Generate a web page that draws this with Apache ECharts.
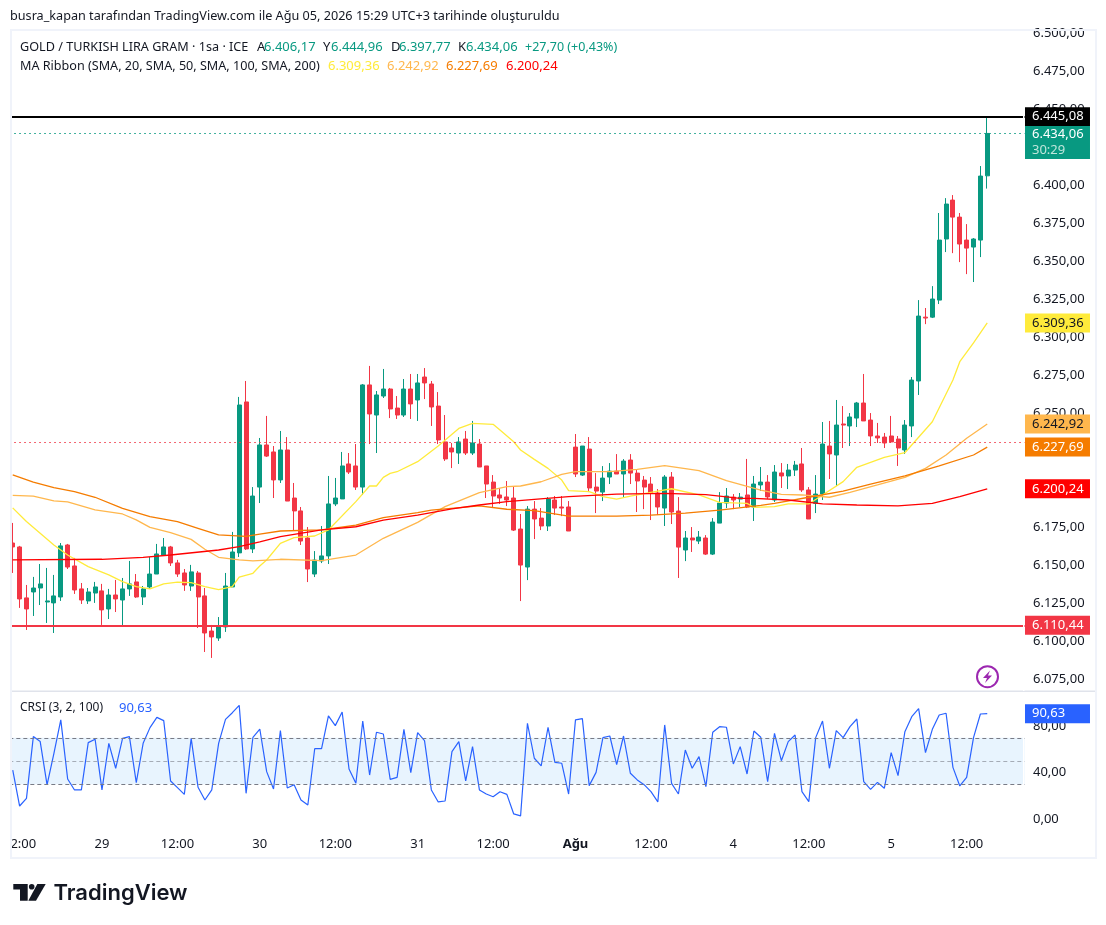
<!DOCTYPE html>
<html><head><meta charset="utf-8">
<style>html,body{margin:0;padding:0;background:#fff}#c{width:1106px;height:925px}</style>
<script src="https://cdn.jsdelivr.net/npm/echarts@6/dist/echarts.min.js"></script>
</head><body><div id="c"></div>
<script>
const opens=[6164.6,6162.0,6128.5,6132.4,6135.0,6125.8,6125.2,6129.1,6163.3,6149.5,6134.4,6126.5,6131.7,6133.1,6121.2,6130.4,6127.1,6134.4,6139.0,6129.1,6135.7,6144.2,6156.7,6162.0,6151.5,6144.9,6136.3,6144.9,6129.8,6106.7,6102.1,6109.4,6135.7,6158.1,6257.4,6160.7,6201.4,6229.1,6224.5,6206.1,6225.8,6194.2,6185.7,6167.9,6144.2,6152.8,6156.1,6190.3,6193.6,6216.6,6215.3,6201.4,6268.6,6248.8,6261.3,6265.9,6253.4,6248.8,6265.9,6258.7,6273.8,6269.2,6254.7,6231.1,6227.1,6223.8,6233.0,6223.8,6229.7,6215.3,6204.7,6196.2,6194.9,6194.2,6173.8,6148.8,6186.9,6181.0,6175.8,6192.9,6188.3,6188.3,6227.7,6209.3,6226.4,6201.4,6198.1,6208.0,6211.9,6210.0,6219.2,6210.6,6206.0,6203.4,6197.5,6187.6,6208.0,6185.6,6160.0,6167.9,6165.9,6167.9,6157.3,6177.7,6190.9,6194.8,6193.5,6196.2,6188.3,6202.8,6204.7,6192.9,6210.7,6208.7,6212.6,6216.6,6199.5,6190.7,6196.8,6228.4,6222.5,6242.9,6241.6,6246.8,6256.7,6245.5,6235.0,6234.3,6235.0,6233.0,6225.8,6241.6,6271.2,6313.2,6313.2,6324.4,6364.6,6390.2,6379.0,6363.9,6359.3,6363.9,6406.17];
const closes=[6162.0,6127.8,6121.2,6135.0,6137.7,6126.5,6129.8,6162.7,6148.8,6133.7,6127.1,6132.4,6135.7,6120.6,6130.4,6127.8,6134.4,6137.7,6129.1,6134.4,6144.2,6157.4,6162.0,6151.5,6144.2,6137.0,6145.6,6129.1,6105.4,6102.8,6110.0,6136.3,6158.7,6255.4,6160.7,6195.5,6229.1,6221.8,6206.1,6225.8,6192.2,6185.7,6165.9,6147.5,6153.4,6156.1,6190.3,6194.2,6215.3,6211.3,6201.4,6268.6,6249.5,6262.0,6265.9,6252.8,6248.8,6265.9,6256.1,6269.9,6269.9,6254.1,6232.4,6219.9,6224.5,6231.1,6223.8,6230.4,6214.6,6203.4,6195.5,6194.2,6192.9,6173.1,6150.1,6186.9,6180.4,6175.8,6193.5,6187.6,6187.6,6172.5,6210.0,6228.4,6200.8,6198.8,6207.3,6211.9,6210.0,6218.5,6210.6,6205.4,6201.4,6197.5,6188.3,6208.0,6185.0,6161.9,6167.9,6166.6,6168.5,6157.3,6178.4,6190.9,6195.5,6192.9,6194.8,6188.3,6203.4,6204.7,6194.9,6211.3,6208.7,6212.6,6215.9,6199.5,6180.4,6196.8,6229.7,6223.2,6242.2,6242.2,6247.5,6256.7,6244.9,6235.0,6233.7,6230.4,6231.1,6227.1,6242.2,6271.8,6313.9,6312.6,6325.1,6363.9,6387.6,6379.0,6361.3,6358.6,6364.6,6406.0,6434.06];
const lows=[6144.9,6121.9,6107.4,6116.6,6123.8,6112.0,6105.4,6126.5,6147.5,6131.1,6124.5,6124.5,6125.2,6110.7,6114.6,6119.2,6109.4,6129.8,6128.5,6123.8,6134.4,6144.2,6156.7,6149.5,6142.3,6133.1,6133.1,6108.7,6092.9,6089.0,6100.2,6106.1,6135.7,6155.4,6160.0,6158.0,6190.9,6221.2,6194.2,6204.1,6192.2,6172.5,6163.3,6138.9,6142.2,6151.4,6150.8,6188.9,6193.6,6210.0,6199.5,6196.2,6229.7,6223.8,6260.0,6246.8,6246.2,6247.5,6246.2,6244.9,6259.3,6241.6,6229.7,6218.6,6213.9,6216.6,6222.5,6222.5,6214.6,6194.2,6188.3,6190.3,6188.9,6172.5,6126.4,6140.2,6167.2,6173.1,6172.5,6183.0,6182.3,6172.5,6208.0,6208.7,6198.1,6184.3,6192.2,6203.4,6210.0,6194.2,6203.4,6185.0,6186.9,6179.7,6183.0,6175.8,6177.1,6141.6,6152.7,6158.7,6163.9,6156.7,6156.7,6177.7,6187.6,6186.9,6188.3,6187.6,6179.1,6198.8,6193.6,6191.6,6200.8,6200.1,6208.7,6198.2,6180.4,6184.3,6192.9,6206.7,6202.1,6227.1,6228.4,6240.9,6244.9,6228.4,6230.4,6227.1,6230.4,6215.3,6223.2,6234.3,6262.0,6308.6,6312.6,6321.8,6356.0,6355.3,6349.4,6341.5,6336.3,6352.7,6397.77];
const highs=[6177.8,6162.7,6137.0,6142.3,6150.8,6148.2,6143.6,6164.6,6164.0,6154.8,6138.3,6135.0,6139.0,6137.7,6134.4,6140.3,6141.6,6152.8,6144.2,6136.3,6155.4,6164.0,6167.9,6162.7,6153.5,6147.5,6150.2,6146.2,6135.0,6110.7,6115.9,6144.9,6171.9,6260.7,6271.2,6201.4,6233.7,6248.2,6228.4,6238.3,6234.3,6204.1,6188.3,6175.1,6159.3,6175.8,6208.7,6207.4,6224.5,6223.8,6229.7,6269.2,6281.1,6264.6,6279.1,6266.6,6261.3,6272.5,6275.8,6275.8,6279.7,6271.2,6263.9,6248.8,6230.4,6234.3,6238.3,6244.9,6233.0,6215.3,6209.3,6200.8,6205.4,6202.1,6183.7,6188.9,6192.2,6187.6,6194.8,6195.5,6195.5,6192.2,6236.3,6228.4,6234.3,6210.6,6215.2,6217.2,6223.1,6219.8,6223.1,6212.6,6208.7,6208.0,6200.1,6209.3,6211.3,6194.8,6172.5,6175.1,6172.5,6169.8,6181.0,6198.1,6200.8,6196.8,6197.5,6219.9,6208.7,6214.6,6209.3,6215.9,6217.2,6216.6,6218.6,6227.1,6201.4,6209.3,6244.2,6244.9,6258.7,6254.7,6250.1,6257.4,6275.8,6250.1,6243.6,6237.0,6248.2,6235.0,6245.5,6273.8,6324.4,6319.2,6333.6,6381.7,6391.5,6393.5,6381.7,6374.4,6365.2,6412.6,6444.96];
const ma20=[[0,6187.7],[2,6178.7],[4,6171.0],[6,6163.3],[8,6156.7],[11,6149.1],[14,6143.6],[16,6139.2],[18,6135.9],[20,6134.4],[22,6137.7],[24,6138.8],[26,6138.5],[28,6135.9],[30,6133.9],[32,6135.9],[33,6142.1],[35,6144.7],[36,6149.5],[37,6153.4],[39,6164.4],[41,6168.1],[44,6169.2],[46,6173.2],[50,6191.8],[52,6202.1],[53,6202.1],[54,6207.8],[55,6210.4],[56,6211.5],[59,6218.1],[62,6228.4],[65,6240.0],[67,6243.3],[70,6242.7],[71,6238.9],[73,6231.2],[74,6225.8],[76,6219.6],[78,6213.7],[80,6206.0],[81,6199.0],[84,6198.4],[86,6195.1],[88,6193.5],[90,6195.5],[94,6198.8],[96,6200.3],[100,6196.2],[103,6191.3],[107,6190.7],[108,6188.1],[111,6188.5],[113,6190.3],[116,6190.3],[118,6196.2],[121,6205.0],[123,6214.4],[127,6221.0],[130,6224.0],[131,6229.1],[134,6244.4],[137,6271.8],[138,6283.9],[140,6296.2],[142,6309.36]];
const ma50=[[0,6196.0],[3,6195.4],[6,6192.3],[8,6191.6],[12,6186.4],[16,6183.7],[18,6179.8],[20,6174.9],[23,6171.4],[26,6167.0],[28,6160.5],[30,6155.2],[33,6153.5],[35,6152.8],[39,6153.9],[45,6153.0],[50,6156.7],[54,6167.7],[59,6178.2],[63,6188.5],[68,6197.7],[72,6201.7],[74,6202.1],[77,6204.9],[80,6209.8],[82,6211.5],[87,6211.5],[91,6213.0],[95,6215.5],[100,6212.2],[104,6205.6],[109,6199.4],[112,6196.6],[115,6196.2],[119,6194.7],[122,6197.9],[126,6202.8],[130,6207.8],[133,6213.7],[136,6222.5],[139,6233.5],[142,6242.92]];
const ma100=[[0,6209.4],[3,6204.6],[6,6201.0],[9,6198.4],[12,6194.7],[16,6187.4],[20,6182.0],[24,6178.7],[27,6174.3],[30,6169.9],[34,6169.0],[36,6170.4],[39,6172.5],[45,6173.2],[50,6176.4],[54,6181.3],[59,6184.6],[61,6186.3],[68,6189.0],[72,6186.8],[76,6185.9],[81,6182.3],[88,6182.3],[93,6183.0],[98,6184.3],[103,6186.3],[109,6189.4],[111,6190.7],[116,6194.7],[121,6198.8],[125,6203.4],[130,6208.7],[135,6215.3],[140,6222.5],[142,6227.69]];
const ma200=[[0,6153.5],[13,6153.9],[19,6155.2],[23,6156.7],[30,6160.0],[33,6162.2],[36,6165.3],[39,6168.8],[45,6173.2],[50,6175.3],[54,6179.7],[59,6183.0],[64,6187.0],[68,6189.6],[72,6191.8],[76,6193.3],[81,6195.1],[88,6196.8],[95,6197.3],[101,6196.4],[106,6194.0],[108,6194.0],[113,6192.9],[118,6190.3],[123,6189.6],[129,6189.0],[134,6190.7],[138,6195.1],[142,6200.24]];
const crsi=[42.3,11.4,18.0,71.0,66.7,29.5,56.6,85.3,34.6,25.2,25.2,65.8,68.7,25.2,65.2,43.8,69.5,71.0,31.5,65.2,78.7,87.5,84.7,32.9,27.2,21.4,69.5,27.5,16.6,25.2,65.2,85.8,91.5,97.8,22.3,70.4,77.5,40.9,26.0,76.1,26.9,29.7,16.6,12.3,60.6,60.6,88.7,80.4,92.1,43.2,30.9,84.4,38.0,74.7,73.2,34.3,36.0,77.2,40.0,74.4,67.5,25.2,14.9,15.7,58.1,66.7,32.9,62.4,25.2,21.7,19.4,23.7,21.4,4.6,2.9,82.4,52.4,45.8,79.0,48.9,48.1,21.7,85.3,86.4,28.9,40.3,70.1,71.5,46.9,71.5,39.5,33.8,29.7,23.7,14.9,81.0,30.9,21.7,59.5,43.8,53.8,28.0,74.7,79.5,79.0,47.5,62.4,38.9,75.8,70.4,32.3,73.8,50.3,66.7,72.4,23.7,15.2,70.1,84.4,43.8,76.1,70.1,79.5,86.1,32.3,25.7,31.7,26.6,57.2,37.5,75.2,88.1,95.0,57.2,77.2,89.5,91.0,44.6,28.6,36.0,70.1,90.4,90.63];
const timeTicks={1:'12:00',13:'29',24:'12:00',36:'30',47:'12:00',59:'31',70:'12:00',82:'Ağu',93:'12:00',105:'4',116:'12:00',128:'5',139:'12:00'};
const priceTicks=[6075,6100,6125,6150,6175,6200,6250,6275,6300,6325,6350,6375,6400,6450,6475,6500];
const crsiTicks=[0,40,80];
const priceMarks={resistance:6445.08,last:6434.06,ma20:6309.36,ma50:6242.92,ma100:6227.69,ma200:6200.24,support:6110.44,prevClose:6230.9,lastBoxCentre:6428.1};

const FONT='"Noto Sans"';
const GREEN='#089981',RED='#f23645',YEL='#ffeb3b',LOR='#ffb74d',ORG='#f57c00',R200='#ff0000',INK='#131722',BLUE='#2962ff';
const fmt=v=>{const s=v.toFixed(2).split('.');return s[0].replace(/\B(?=(\d{3})+$)/g,'.')+','+s[1]};
const N=148;
const cats=Array.from({length:N},(_,i)=>timeTicks[i]||'');
const candleData=opens.map((o,i)=>[o,closes[i],lows[i],highs[i]]);
function boxLabel(bg,fg,text,h){return{show:true,position:'end',distance:0,formatter:text,backgroundColor:bg,color:fg,width:58,height:h||19,lineHeight:h?16:19,align:'left',verticalAlign:'middle',fontFamily:FONT,fontSize:13,padding:[0,0,0,7]};}
function hidden(v,bg,fg,text){return{yAxis:v,lineStyle:{color:'rgba(0,0,0,0)',width:0.01},label:boxLabel(bg,fg,text)};}
function maSeries(name,data,color){return{name,type:'line',data,xAxisIndex:0,yAxisIndex:0,showSymbol:false,symbol:'none',smooth:false,lineStyle:{color,width:1.3},z:3,silent:true,animation:false};}
function T(x,y,text,fill,extra){return Object.assign({type:'text',x,y,z:120,silent:true,style:Object.assign({text,fill,font:'13px '+FONT,textVerticalAlign:'middle'},extra||{})});}
function R(x,y,w,h,fill){return{type:'rect',shape:{x,y,width:w,height:h},style:{fill},z:110,silent:true};}
const F=s=>({font:s+'px '+FONT});

const option={
 animation:false,backgroundColor:'#ffffff',
 textStyle:{fontFamily:FONT},
 grid:[{left:9.27,top:30,width:1015.72,height:661},{left:9.27,top:692,width:1015.72,height:138}],
 xAxis:[
  {type:'category',gridIndex:0,data:cats,boundaryGap:true,axisLine:{show:false},axisTick:{show:false},axisLabel:{show:false},splitLine:{show:false}},
  {type:'category',gridIndex:1,data:cats,boundaryGap:true,axisLine:{show:false},axisTick:{show:false},splitLine:{show:false},
   axisLabel:{show:true,interval:(i,v)=>v!=='',margin:8,color:INK,fontSize:13,fontFamily:FONT,hideOverlap:false,
     formatter:v=>v==='Ağu'?'{b|Ağu}':v,rich:{b:{fontWeight:'bold',fontSize:13,color:INK,fontFamily:FONT}}}}
 ],
 yAxis:[
  {type:'value',gridIndex:0,position:'right',min:6067.24,max:6502.1,splitLine:{show:false},axisLine:{show:false},axisTick:{show:false},
   axisLabel:{customValues:priceTicks,formatter:fmt,color:INK,fontSize:13,fontFamily:FONT,margin:8}},
  {type:'value',gridIndex:1,position:'right',min:-9.18,max:109.27,splitLine:{show:false},axisLine:{show:false},axisTick:{show:false},
   axisLabel:{customValues:crsiTicks,formatter:fmt,color:INK,fontSize:13,fontFamily:FONT,margin:8}}
 ],
 series:[
  {type:'candlestick',name:'GOLD',xAxisIndex:0,yAxisIndex:0,data:candleData,barWidth:4.5,z:2,silent:true,
   itemStyle:{color:GREEN,color0:RED,borderColor:GREEN,borderColor0:RED,borderWidth:1},
   markLine:{silent:true,symbol:'none',animation:false,z:6,precision:2,data:[
    {yAxis:priceMarks.prevClose,lineStyle:{color:RED,type:[1.5,3.5],width:1.2},label:{show:false}},
    {yAxis:priceMarks.last,lineStyle:{color:GREEN,type:[1.5,3.5],width:1.2},label:{show:false}},
    {yAxis:priceMarks.support,lineStyle:{color:RED,type:'solid',width:2},label:boxLabel(RED,'#fff',fmt(priceMarks.support))},
    {yAxis:priceMarks.resistance,lineStyle:{color:'#000',type:'solid',width:2},label:boxLabel('#000','#fff',fmt(priceMarks.resistance))},
    hidden(priceMarks.ma20,YEL,INK,fmt(priceMarks.ma20)),
    hidden(priceMarks.ma50,LOR,INK,fmt(priceMarks.ma50)),
    hidden(priceMarks.ma100,ORG,'#fff',fmt(priceMarks.ma100)),
    hidden(priceMarks.ma200,R200,'#fff',fmt(priceMarks.ma200)),
    {yAxis:priceMarks.lastBoxCentre,lineStyle:{color:'rgba(0,0,0,0)',width:0.01},label:Object.assign(boxLabel(GREEN,'#fff',fmt(priceMarks.last)+'\n{s|30:29}',33),{rich:{s:{color:'#bfe6db',fontSize:13,fontFamily:FONT,lineHeight:16}}})}
   ]}},
  maSeries('MA20',ma20,YEL),maSeries('MA50',ma50,LOR),maSeries('MA100',ma100,ORG),maSeries('MA200',ma200,R200),
  {type:'line',name:'CRSI',xAxisIndex:1,yAxisIndex:1,data:crsi,showSymbol:false,symbol:'none',lineStyle:{color:BLUE,width:1.2},z:3,silent:true,
   markArea:{silent:true,itemStyle:{color:'rgba(33,150,243,0.1)'},data:[[{yAxis:30},{yAxis:70}]]},
   markLine:{silent:true,symbol:'none',animation:false,data:[
    {yAxis:70,lineStyle:{color:'#787b86',type:[4,3],width:1},label:{show:false}},
    {yAxis:50,lineStyle:{color:'rgba(120,123,134,0.6)',type:[4,3],width:1},label:{show:false}},
    {yAxis:30,lineStyle:{color:'#787b86',type:[4,3],width:1},label:{show:false}},
    {yAxis:90.63,lineStyle:{color:'rgba(0,0,0,0)',width:0.01},label:boxLabel(BLUE,'#fff',fmt(90.63))}
   ]}}
 ],
 graphic:{elements:[
  R(0,31,10,828,'#ffffff'),
  R(10,29,2,830,'#f0f3fa'),
  R(10,29,1087,2,'#f0f3fa'),
  R(1095,29,2,830,'#f0f3fa'),
  R(10,857,1087,2,'#f0f3fa'),
  R(12,690.5,1083,1.5,'#e0e3eb'),
  R(1023,31,1.5,660,'#ffffff'),R(1023,692,1.5,138,'#ffffff'),
  T(10,16.5,'busra_kapan tarafından TradingView.com ile Ağu 05, 2026 15:29 UTC+3 tarihinde oluşturuldu',INK,F(12.65)),
  T(20,47,'GOLD / TURKISH LIRA GRAM · 1sa · ICE',INK,F(12.65)),
  T(257,47,'A',INK),T(264,47,fmt(6406.17),GREEN),
  T(323,47,'Y',INK),T(331,47,fmt(6444.96),GREEN),
  T(391,47,'D',INK),T(399,47,fmt(6397.77),GREEN),
  T(458,47,'K',INK),T(466,47,fmt(6434.06),GREEN),
  T(525,47,'+27,70 (+0,43%)',GREEN,F(12.5)),
  T(20,66,'MA Ribbon (SMA, 20, SMA, 50, SMA, 100, SMA, 200)',INK,F(12.6)),
  T(328,66,fmt(6309.36),YEL),T(387,66,fmt(6242.92),LOR),T(446,66,fmt(6227.69),ORG),T(506,66,fmt(6200.24),R200),
  T(20,708,'CRSI (3, 2, 100)',INK,F(12)),T(119,708,fmt(90.63),BLUE),
  {type:'circle',shape:{cx:987.5,cy:676.7,r:10.5},style:{fill:'#fff',stroke:'#9c27b0',lineWidth:2},z:120,silent:true},
  {type:'polygon',shape:{points:[[990,670.5],[983,678],[987,678],[985,683],[992,675.5],[988,675.5]]},style:{fill:'#9c27b0'},z:121,silent:true},
  {type:'polygon',shape:{points:[[13.3,884],[27.7,884],[27.7,900.7],[20,900.7],[20,889.5],[13.3,889.5]]},style:{fill:'#131722'},z:120,silent:true},
  {type:'circle',shape:{cx:31.7,cy:886.8,r:2.8},style:{fill:'#131722'},z:120,silent:true},
  {type:'polygon',shape:{points:[[37.3,884],[45.7,884],[36,900.7],[28.3,900.7]]},style:{fill:'#131722'},z:120,silent:true},
  T(53.5,893,'TradingView','#131722',{font:'600 22px Inter'})
 ]}
};
const chart=echarts.init(document.getElementById('c'),null,{renderer:'canvas',width:1106,height:925});
chart.setOption(option);
</script></body></html>
